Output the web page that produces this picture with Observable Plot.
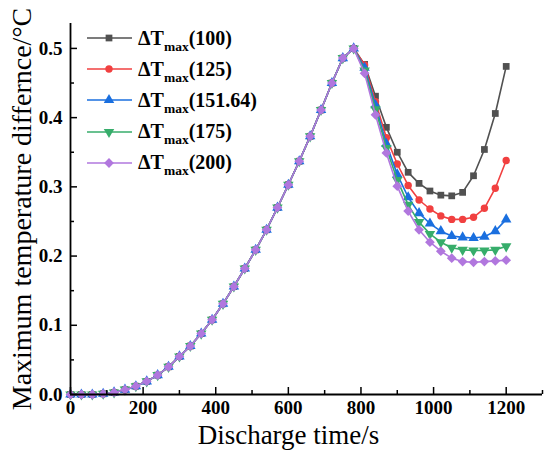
<!DOCTYPE html>
<html>
<head>
<meta charset="utf-8">
<script src="https://cdn.jsdelivr.net/npm/d3@7"></script>
<script src="https://cdn.jsdelivr.net/npm/@observablehq/plot@0.6"></script>
<style>
  html, body { margin: 0; padding: 0; background: #fff; }
  #wrap { position: relative; width: 550px; height: 455px; font-family: "Liberation Serif", "Times New Roman", serif; }
  #legend { position: absolute; left: 87px; top: 0; }
  .row { position: absolute; left: 0; height: 30px; display: flex; align-items: center; white-space: nowrap;
         font-weight: bold; font-size: 20px; color: #000; }
  .row svg { display: block; }
  .row .lab { margin-left: 5px; }
  .row .sub { font-size: 13.5px; position: relative; top: 6px; }
</style>
</head>
<body>
<div id="wrap"></div>
<script>
// ---- data ----
const times = [0,30,60,90,120,150,180,210,240,270,300,330,360,390,420,450,480,510,540,570,600,630,660,690,720,750,780,
               810,840,870,900,930,960,990,1020,1050,1080,1110,1140,1170,1200];
// common rising part (0 .. 780 s)
const rise = [0,0,0,0.001,0.003,0.007,0.012,0.019,0.028,0.040,0.055,0.070,0.088,0.108,0.131,0.156,0.182,0.209,0.238,0.270,0.303,0.337,0.373,0.411,0.450,0.486,0.500];
// falling part (810 .. 1200 s)
const fall100    = [0.477,0.431,0.386,0.350,0.321,0.305,0.294,0.288,0.287,0.292,0.316,0.354,0.406,0.474];
const fall125    = [0.476,0.423,0.371,0.333,0.302,0.281,0.268,0.258,0.253,0.253,0.256,0.269,0.298,0.338];
const fall151_64 = [0.472,0.418,0.362,0.318,0.285,0.262,0.247,0.236,0.229,0.227,0.226,0.228,0.236,0.253];
const fall175    = [0.468,0.412,0.356,0.310,0.274,0.249,0.232,0.220,0.212,0.209,0.208,0.208,0.209,0.214];
const fall200    = [0.464,0.404,0.349,0.301,0.265,0.238,0.220,0.207,0.197,0.192,0.191,0.192,0.193,0.194];

const seriesNames = ["100","125","151.64","175","200"];
const seriesFall = [fall100, fall125, fall151_64, fall175, fall200];
const colors = ["#515151","#F14040","#1A6FDF","#37AD6B","#B177DE"];
const symbols = [
  {symbol: "square", rotate: 0, r: 3.8},
  {symbol: "circle", rotate: 0, r: 3.7},
  {symbol: "triangle", rotate: 0, r: 3.9},
  {symbol: "triangle", rotate: 180, r: 3.9},
  {symbol: "diamond2", rotate: 0, r: 4.4}
];
const xTicks = [0,200,400,600,800,1000,1200];
const xMinor = [100,300,500,700,900,1100,1300];
const yTicks = [0,0.1,0.2,0.3,0.4,0.5];
const yMinor = [0.05,0.15,0.25,0.35,0.45];

// table
const rows = [];
seriesNames.forEach((s, k) => {
  const vals = rise.concat(seriesFall[k]);
  vals.forEach((v, i) => rows.push({t: times[i], v, s}));
});

const font = '"Liberation Serif", "Times New Roman", serif';
const marks = [];
seriesNames.forEach((s, k) => {
  const d = rows.filter(r => r.s === s);
  marks.push(Plot.line(d, {x: "t", y: "v", stroke: colors[k], strokeWidth: 1.6}));
  marks.push(Plot.dot(d, {x: "t", y: "v", fill: colors[k], stroke: "none",
    symbol: symbols[k].symbol, rotate: symbols[k].rotate, r: symbols[k].r}));
});

const chart = Plot.plot({
  width: 550,
  height: 455,
  marginLeft: 70,
  marginRight: 8,
  marginTop: 23,
  marginBottom: 61,
  style: {fontFamily: font, background: "white", overflow: "visible"},
  x: {domain: [0, 1300]},
  y: {domain: [0, 0.536]},
  marks: [
    ...marks,
    // axis lines
    Plot.ruleY([0], {stroke: "#000", strokeWidth: 1.8}),
    Plot.ruleX([0], {stroke: "#000", strokeWidth: 1.8}),
    // inward ticks
    Plot.axisX({ticks: xTicks, tickSize: 7, dy: -7, text: null, label: null, stroke: "#000", strokeWidth: 1.5}),
    Plot.axisX({ticks: xMinor, tickSize: 4, dy: -4, text: null, label: null, stroke: "#000", strokeWidth: 1.5}),
    Plot.axisY({ticks: yTicks, tickSize: 7, dx: 7, text: null, label: null, stroke: "#000", strokeWidth: 1.5}),
    Plot.axisY({ticks: yMinor, tickSize: 4, dx: 4, text: null, label: null, stroke: "#000", strokeWidth: 1.5}),
    // tick labels
    Plot.axisX({ticks: xTicks, tickSize: 0, tickPadding: 6, label: null, tickFormat: d3.format("d"),
      fontSize: 19, fontWeight: "bold", fill: "#000"}),
    Plot.axisY({ticks: yTicks, tickSize: 0, tickPadding: 8, label: null, tickFormat: d3.format(".1f"),
      fontSize: 19, fontWeight: "bold", fill: "#000"}),
    // axis titles
    Plot.text(["Discharge time/s"], {frameAnchor: "bottom", dx: -18, dy: 41, lineAnchor: "middle",
      textAnchor: "middle", fontSize: 27, fill: "#000"}),
    Plot.text(["Maximum temperature differnce/\u00B0C"], {frameAnchor: "left", dx: -48, rotate: -90,
      textAnchor: "middle", lineAnchor: "middle", fontSize: 28, fill: "#000"})
  ]
});

const wrap = document.getElementById("wrap");
wrap.appendChild(chart);

// legend
const legend = document.createElement("div");
legend.id = "legend";
wrap.appendChild(legend);
const symMap = {square: d3.symbolSquare, circle: d3.symbolCircle, triangle: d3.symbolTriangle, diamond2: d3.symbolDiamond2};
seriesNames.forEach((s, k) => {
  const row = document.createElement("div");
  row.className = "row";
  row.style.top = (38 + k * 31.2 - 15) + "px";
  const svg = d3.create("svg").attr("width", 46).attr("height", 30);
  svg.append("line").attr("x1", 0).attr("x2", 45).attr("y1", 15).attr("y2", 15)
    .attr("stroke", colors[k]).attr("stroke-width", 1.6);
  const r = symbols[k].r;
  svg.append("path")
    .attr("d", d3.symbol(symMap[symbols[k].symbol], Math.PI * r * r)())
    .attr("transform", `translate(22,15) rotate(${symbols[k].rotate})`)
    .attr("fill", colors[k]);
  row.appendChild(svg.node());
  const lab = document.createElement("span");
  lab.className = "lab";
  lab.innerHTML = `\u0394T<span class="sub">max</span>(${s})`;
  row.appendChild(lab);
  legend.appendChild(row);
});
</script>
</body>
</html>
